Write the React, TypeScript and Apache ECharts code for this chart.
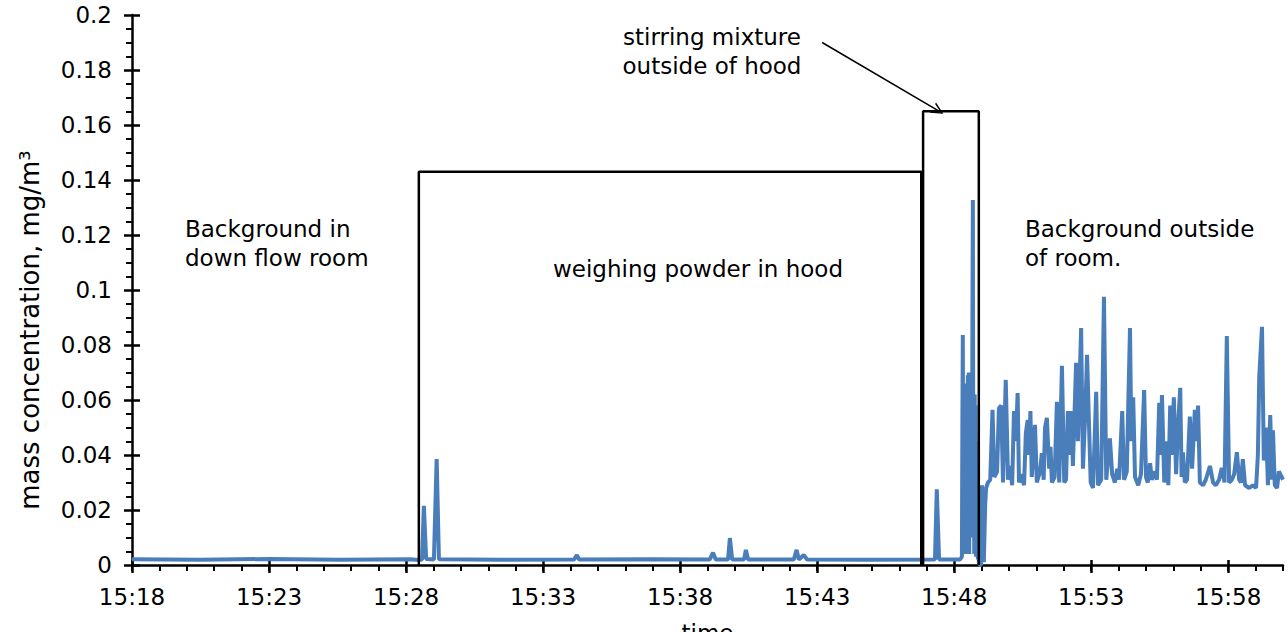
import React, { useEffect, useRef } from "react";
import * as echarts from "echarts";

const FONT = '"DejaVu Sans", Verdana, sans-serif';
const START = "15:18";

// x tick labels (every 5 minutes from 15:18)
const xTickLabels = ["15:18", "15:23", "15:28", "15:33", "15:38", "15:43", "15:48", "15:53", "15:58"];
const yTickLabels = ["0", "0.02", "0.04", "0.06", "0.08", "0.1", "0.12", "0.14", "0.16", "0.18", "0.2"];

// [time, mass concentration mg/m3]
const backgroundRoom: [string, number][] = [
  ["15:18:00", 0.0021], ["15:20:29", 0.0019], ["15:23:02", 0.0022], ["15:25:35", 0.0019],
  ["15:28:09", 0.0021], ["15:28:28", 0.0018],
];
const hoodPhase: [string, number][] = [
  ["15:28:35", 0.002], ["15:28:39", 0.0215], ["15:28:44", 0.0022], ["15:29:01", 0.002],
  ["15:29:07", 0.0385], ["15:29:12", 0.0021], ["15:31:26", 0.0019], ["15:34:08", 0.002],
  ["15:34:14", 0.0036], ["15:34:19", 0.002], ["15:36:54", 0.0021], ["15:39:05", 0.002],
  ["15:39:12", 0.0045], ["15:39:18", 0.002], ["15:39:45", 0.002], ["15:39:49", 0.0098],
  ["15:39:54", 0.002], ["15:40:20", 0.002], ["15:40:24", 0.0055], ["15:40:29", 0.002],
  ["15:42:09", 0.002], ["15:42:15", 0.0055], ["15:42:20", 0.002], ["15:42:31", 0.0036],
  ["15:42:38", 0.002], ["15:44:56", 0.0019],
];
const stirPhase: [string, number][] = [
  ["15:47:18", 0.002], ["15:47:22", 0.0275], ["15:47:27", 0.002], ["15:48:13", 0.002],
  ["15:48:17", 0.003], ["15:48:18", 0.05], ["15:48:19", 0.0836], ["15:48:20", 0.01],
  ["15:48:21", 0.06], ["15:48:22", 0.005], ["15:48:23", 0.066], ["15:48:24", 0.03],
  ["15:48:25", 0.004], ["15:48:26", 0.064], ["15:48:27", 0.02], ["15:48:28", 0.062],
  ["15:48:29", 0.006], ["15:48:30", 0.069], ["15:48:31", 0.035], ["15:48:32", 0.07],
  ["15:48:33", 0.004], ["15:48:34", 0.066], ["15:48:35", 0.025], ["15:48:36", 0.068],
  ["15:48:37", 0.01], ["15:48:38", 0.06], ["15:48:39", 0.015], ["15:48:40", 0.09],
  ["15:48:41", 0.1327], ["15:48:42", 0.02], ["15:48:43", 0.055], ["15:48:44", 0.004],
  ["15:48:45", 0.062], ["15:48:46", 0.03], ["15:48:47", 0.058], ["15:48:48", 0.003],
  ["15:48:49", 0.045], ["15:48:50", 0.01], ["15:48:51", 0.04], ["15:48:52", 0.002],
  ["15:48:53", 0.02], ["15:48:54", 0.001], ["15:48:57", 0.0], ["15:48:59", 0.0],
];
const backgroundOutside: [string, number][] = [
  ["15:49:01", 0.029], ["15:49:03", 0.012], ["15:49:05", 0.001], ["15:49:08", 0.022],
  ["15:49:10", 0.028], ["15:49:14", 0.03], ["15:49:19", 0.031], ["15:49:24", 0.0564],
  ["15:49:28", 0.032], ["15:49:34", 0.034], ["15:49:38", 0.057], ["15:49:43", 0.058],
  ["15:49:47", 0.03], ["15:49:53", 0.0673], ["15:49:58", 0.031], ["15:50:02", 0.036],
  ["15:50:07", 0.029], ["15:50:11", 0.056], ["15:50:15", 0.045], ["15:50:19", 0.0625],
  ["15:50:22", 0.03], ["15:50:26", 0.033], ["15:50:33", 0.029], ["15:50:37", 0.048],
  ["15:50:41", 0.0527], ["15:50:44", 0.04], ["15:50:47", 0.056], ["15:50:50", 0.032],
  ["15:50:57", 0.051], ["15:51:01", 0.03], ["15:51:08", 0.034], ["15:51:12", 0.0407],
  ["15:51:16", 0.031], ["15:51:19", 0.05], ["15:51:23", 0.0535], ["15:51:28", 0.035],
  ["15:51:31", 0.043], ["15:51:34", 0.03], ["15:51:40", 0.032], ["15:51:45", 0.0593],
  ["15:51:50", 0.03], ["15:51:56", 0.0724], ["15:52:01", 0.03], ["15:52:05", 0.031],
  ["15:52:09", 0.056], ["15:52:14", 0.04], ["15:52:17", 0.056], ["15:52:20", 0.036],
  ["15:52:27", 0.0735], ["15:52:31", 0.045], ["15:52:38", 0.0862], ["15:52:42", 0.035],
  ["15:52:47", 0.055], ["15:52:51", 0.0764], ["15:52:55", 0.0527], ["15:52:59", 0.03],
  ["15:53:04", 0.028], ["15:53:11", 0.063], ["15:53:15", 0.029], ["15:53:22", 0.031],
  ["15:53:28", 0.0975], ["15:53:33", 0.031], ["15:53:41", 0.046], ["15:53:46", 0.033],
  ["15:53:52", 0.03], ["15:53:57", 0.035], ["15:54:01", 0.031], ["15:54:08", 0.056],
  ["15:54:12", 0.031], ["15:54:18", 0.034], ["15:54:25", 0.0862], ["15:54:28", 0.045],
  ["15:54:32", 0.061], ["15:54:36", 0.032], ["15:54:43", 0.029], ["15:54:49", 0.033],
  ["15:54:56", 0.0636], ["15:55:00", 0.032], ["15:55:04", 0.03], ["15:55:09", 0.037],
  ["15:55:13", 0.031], ["15:55:20", 0.034], ["15:55:24", 0.031], ["15:55:29", 0.059],
  ["15:55:32", 0.04], ["15:55:35", 0.0618], ["15:55:40", 0.03], ["15:55:46", 0.045],
  ["15:55:49", 0.029], ["15:55:53", 0.058], ["15:55:57", 0.04], ["15:56:01", 0.061],
  ["15:56:06", 0.033], ["15:56:10", 0.05], ["15:56:15", 0.0644], ["15:56:18", 0.032],
  ["15:56:21", 0.041], ["15:56:25", 0.03], ["15:56:30", 0.031], ["15:56:36", 0.054],
  ["15:56:41", 0.035], ["15:56:47", 0.0564], ["15:56:51", 0.045], ["15:56:54", 0.058],
  ["15:56:58", 0.03], ["15:57:05", 0.029], ["15:57:11", 0.031], ["15:57:20", 0.036],
  ["15:57:27", 0.03], ["15:57:33", 0.029], ["15:57:40", 0.031], ["15:57:46", 0.0353],
  ["15:57:52", 0.03], ["15:57:57", 0.0833], ["15:58:02", 0.03], ["15:58:08", 0.031],
  ["15:58:13", 0.033], ["15:58:19", 0.041], ["15:58:24", 0.031], ["15:58:28", 0.03],
  ["15:58:32", 0.0385], ["15:58:37", 0.029], ["15:58:46", 0.028], ["15:58:54", 0.029],
  ["15:59:01", 0.028], ["15:59:05", 0.04], ["15:59:08", 0.0684], ["15:59:14", 0.0866],
  ["15:59:18", 0.038], ["15:59:23", 0.05], ["15:59:27", 0.029], ["15:59:32", 0.0545],
  ["15:59:36", 0.031], ["15:59:38", 0.049], ["15:59:42", 0.029], ["15:59:47", 0.028],
  ["15:59:51", 0.034], ["16:00:00", 0.031],
];

// annotation boxes: [start, end], top value
const hoodBoxTimes = ["15:28:28", "15:46:48"];
const hoodBoxTop = 0.143;
const stirBoxTimes = ["15:46:52", "15:48:54"];
const stirBoxTop = 0.165;
// arrow from label to the stirring box: [time, value]
const arrowFrom: [string, number] = ["15:43:11", 0.19];
const arrowTo: [string, number] = ["15:47:25", 0.1652];

const X_MAX_MIN = 42;

function toMin(t: string): number {
  const [h, m, s] = t.split(":").map(Number);
  const [h0, m0] = START.split(":").map(Number);
  return h * 60 + m + (s || 0) / 60 - (h0 * 60 + m0);
}

export default function App() {
  const ref = useRef<HTMLDivElement>(null);
  useEffect(() => {
    if (!ref.current) return;
    const chart = echarts.init(ref.current, undefined, { renderer: "svg" });
    const all = [...backgroundRoom, ...hoodPhase, ...stirPhase, ...backgroundOutside];
    const seriesData = all.map(([t, v]) => [toMin(t), v]);
    const majorX = xTickLabels.map((_, i) => i * 5);
    const minuteX: number[] = [];
    for (let i = 0; i <= X_MAX_MIN; i++) minuteX.push(i);
    const box = (times: string[], top: number) => [
      [toMin(times[0]), 0],
      [toMin(times[0]), top],
      [toMin(times[1]), top],
      [toMin(times[1]), 0],
    ];
    const black = "#000";
    const hiddenAxis = {
      axisLine: { show: false },
      axisLabel: { show: false },
      splitLine: { show: false },
    };
    const option: any = {
      animation: false,
      textStyle: { fontFamily: FONT },
      grid: { left: 132, right: 5, top: 15, bottom: 67, containLabel: false, outerBoundsMode: "none" },
      xAxis: [
        {
          type: "value", min: 0, max: X_MAX_MIN, position: "bottom",
          axisLine: { show: true, onZero: false, lineStyle: { color: black, width: 2.5 } },
          axisTick: { show: true, inside: false, length: 8, customValues: majorX, lineStyle: { color: black, width: 2.5 } },
          axisLabel: {
            show: true, margin: 20, color: black, fontSize: 23, fontFamily: FONT,
            customValues: majorX,
            formatter: (v: number) => xTickLabels[Math.round(v / 5)] ?? "",
          },
          splitLine: { show: false },
          name: "time", nameLocation: "middle", nameGap: 56,
          nameTextStyle: { color: black, fontSize: 23, fontFamily: FONT },
        },
        {
          type: "value", min: 0, max: X_MAX_MIN, position: "bottom", ...hiddenAxis,
          axisTick: { show: true, inside: false, length: 6, customValues: minuteX, lineStyle: { color: black, width: 2 } },
        },
        {
          type: "value", min: 0, max: X_MAX_MIN, position: "bottom", ...hiddenAxis,
          axisTick: { show: true, inside: true, length: 5, customValues: majorX, lineStyle: { color: black, width: 2.5 } },
        },
      ],
      yAxis: [
        {
          type: "value", min: 0, max: 0.2, interval: 0.02, position: "left",
          axisLine: { show: true, onZero: false, lineStyle: { color: black, width: 2.5 } },
          axisTick: { show: true, inside: false, length: 8, lineStyle: { color: black, width: 2.5 } },
          minorTick: { show: true, splitNumber: 4, length: 6, lineStyle: { color: black, width: 2 } },
          axisLabel: {
            margin: 20, color: black, fontSize: 23, fontFamily: FONT,
            formatter: (v: number) => yTickLabels[Math.round(v / 0.02)] ?? "",
          },
          splitLine: { show: false },
        },
        {
          type: "value", min: 0, max: 0.2, interval: 0.02, position: "left", ...hiddenAxis,
          axisTick: { show: true, inside: true, length: 8, lineStyle: { color: black, width: 2.5 } },
        },
      ],
      series: [
        {
          type: "line", data: seriesData, showSymbol: false, symbol: "none",
          lineStyle: { color: "#4a7ebb", width: 4 }, z: 2,
        },
        {
          type: "line", data: box(hoodBoxTimes, hoodBoxTop), showSymbol: false, symbol: "none",
          lineStyle: { color: black, width: 2.5 }, z: 3,
        },
        {
          type: "line", data: box(stirBoxTimes, stirBoxTop), showSymbol: false, symbol: "none",
          lineStyle: { color: black, width: 2.5 }, z: 3,
          markLine: {
            silent: true,
            symbol: ["none", "path://M5,0 L10,10 L8.6,10 L5,2.6 L1.4,10 L0,10 Z"],
            symbolSize: [12, 12],
            lineStyle: { color: black, width: 1.5, type: "solid" },
            label: { show: false },
            data: [[
              { coord: [toMin(arrowFrom[0]), arrowFrom[1]] },
              { coord: [toMin(arrowTo[0]), arrowTo[1]] },
            ]],
          },
        },
      ],
      graphic: [
        {
          type: "text", x: 185, y: 243,
          style: { text: "Background in\ndown flow room", font: `23px ${FONT}`, fill: black, lineHeight: 29, align: "left", verticalAlign: "middle" },
        },
        {
          type: "text", x: 553, y: 269,
          style: { text: "weighing powder in hood", font: `23px ${FONT}`, fill: black, align: "left", verticalAlign: "middle" },
        },
        {
          type: "text", x: 1025, y: 243,
          style: { text: "Background outside\nof room.", font: `23px ${FONT}`, fill: black, lineHeight: 29, align: "left", verticalAlign: "middle" },
        },
        {
          type: "text", x: 712, y: 51,
          style: { text: "stirring mixture\noutside of hood", font: `23px ${FONT}`, fill: black, lineHeight: 29, align: "center", verticalAlign: "middle" },
        },
        {
          type: "text", x: 30, y: 330, rotation: Math.PI / 2,
          style: { text: "mass concentration, mg/m³", font: `26px ${FONT}`, fill: black, align: "center", verticalAlign: "middle" },
        },
      ],
    };
    chart.setOption(option);
    return () => chart.dispose();
  }, []);
  return <div ref={ref} style={{ position: "absolute", left: 0, top: 0, width: 1288, height: 632 }} />;
}
